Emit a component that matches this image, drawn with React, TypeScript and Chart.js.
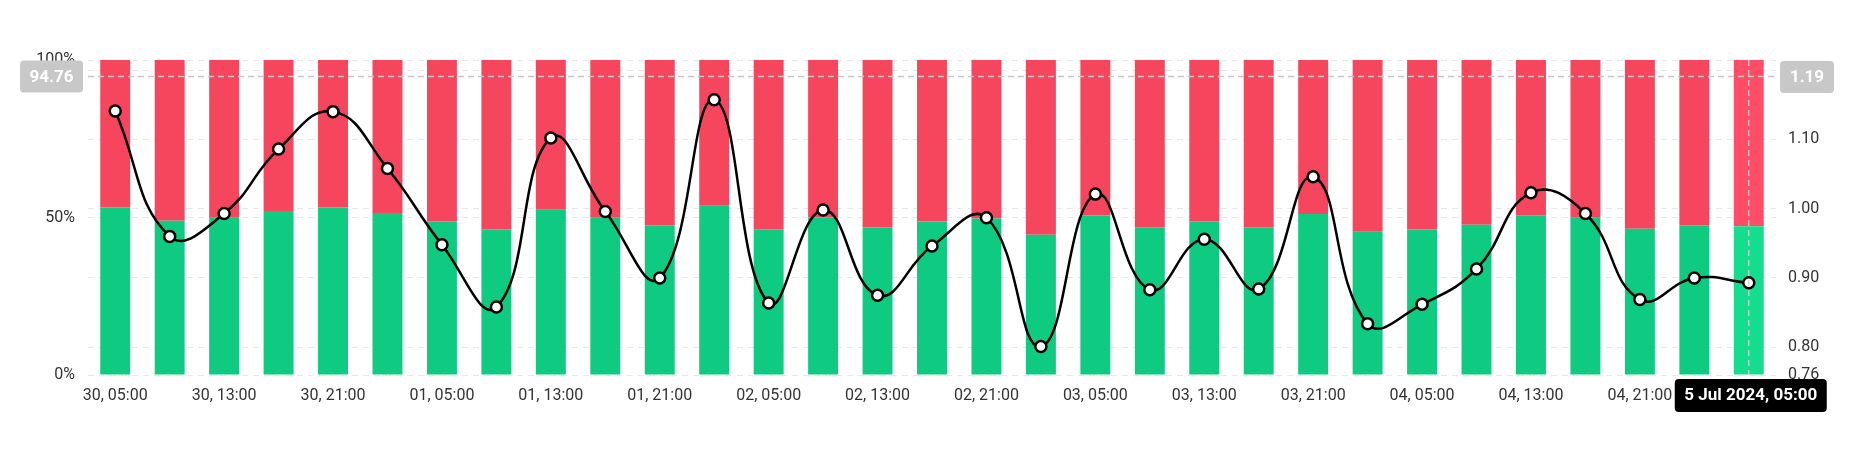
import React, { useEffect, useRef } from "react";
import { Chart, registerables } from "chart.js";

Chart.register(...registerables);

const categories = [
  "30, 05:00", "30, 09:00", "30, 13:00", "30, 17:00", "30, 21:00",
  "01, 01:00", "01, 05:00", "01, 09:00", "01, 13:00", "01, 17:00", "01, 21:00",
  "02, 01:00", "02, 05:00", "02, 09:00", "02, 13:00", "02, 17:00", "02, 21:00",
  "03, 01:00", "03, 05:00", "03, 09:00", "03, 13:00", "03, 17:00", "03, 21:00",
  "04, 01:00", "04, 05:00", "04, 09:00", "04, 13:00", "04, 17:00", "04, 21:00",
  "05, 01:00", "05, 05:00",
];

const longPct = [
  53.2, 49.0, 49.9, 52.1, 53.2, 51.4, 48.8, 46.2, 52.5, 49.9, 47.5, 53.7, 46.3, 50.0, 46.8, 48.7,
  49.7, 44.5, 50.6, 46.9, 48.8, 46.9, 51.1, 45.5, 46.2, 47.7, 50.7, 49.9, 46.4, 47.5, 47.2,
];

const shortPct = [
  46.8, 51.0, 50.1, 47.9, 46.8, 48.6, 51.2, 53.8, 47.5, 50.1, 52.5, 46.3, 53.7, 50.0, 53.2, 51.3,
  50.3, 55.5, 49.4, 53.1, 51.2, 53.1, 48.9, 54.5, 53.8, 52.3, 49.3, 50.1, 53.6, 52.5, 52.8,
];

const ratio = [
  1.141, 0.96, 0.993, 1.086, 1.14, 1.058, 0.948, 0.858, 1.102, 0.996, 0.9, 1.157, 0.864, 0.998, 0.875, 0.946,
  0.987, 0.801, 1.021, 0.883, 0.956, 0.884, 1.046, 0.834, 0.862, 0.913, 1.023, 0.993, 0.869, 0.9, 0.893,
];

const leftTicks = [0, 50, 100];
const rightTicks = [0.76, 0.8, 0.9, 1.0, 1.1, 1.2];
const rightMin = 0.76;
const rightMax = 1.2145;

const crossPct = 94.76;
const crossRatio = 1.19;
const crossIndex = 30;
const crossDateLabel = "5 Jul 2024, 05:00";

const GREEN = "#0ECB81";
const RED = "#F6465D";
const GREEN_HI = "#14DE8D";
const RED_HI = "#FF4D67";

function roundRect(ctx: CanvasRenderingContext2D, x: number, y: number, w: number, h: number, r: number) {
  ctx.beginPath();
  ctx.moveTo(x + r, y);
  ctx.lineTo(x + w - r, y);
  ctx.quadraticCurveTo(x + w, y, x + w, y + r);
  ctx.lineTo(x + w, y + h - r);
  ctx.quadraticCurveTo(x + w, y + h, x + w - r, y + h);
  ctx.lineTo(x + r, y + h);
  ctx.quadraticCurveTo(x, y + h, x, y + h - r);
  ctx.lineTo(x, y + r);
  ctx.quadraticCurveTo(x, y, x + r, y);
  ctx.closePath();
}

const crosshairPlugin = {
  id: "crosshair",
  afterDraw(chart: any) {
    const ctx = chart.ctx as CanvasRenderingContext2D;
    const { left, right, top, bottom } = chart.chartArea;
    const yPix = chart.scales.y.getPixelForValue(crossPct);
    const xPix = chart.scales.x.getPixelForValue(crossIndex);
    ctx.save();
    ctx.setLineDash([6, 4]);
    ctx.lineWidth = 1.5;
    ctx.strokeStyle = "#C6C6C6";
    ctx.beginPath();
    ctx.moveTo(left, yPix);
    ctx.lineTo(right, yPix);
    ctx.stroke();
    ctx.lineWidth = 1.2;
    ctx.strokeStyle = "#D4D4D4";
    ctx.beginPath();
    ctx.moveTo(xPix, top);
    ctx.lineTo(xPix, bottom);
    ctx.stroke();
    ctx.setLineDash([]);

    ctx.font = "bold 17px Roboto";
    ctx.textBaseline = "middle";
    ctx.textAlign = "center";
    // left label
    ctx.fillStyle = "#C8C8C8";
    roundRect(ctx, 12, yPix - 16, 63, 32, 4);
    ctx.fill();
    ctx.fillStyle = "#FFFFFF";
    ctx.fillText(crossPct.toFixed(2), 12 + 31.5, yPix + 1);
    // right label
    const ry = chart.scales.y1.getPixelForValue(crossRatio);
    ctx.fillStyle = "#C8C8C8";
    roundRect(ctx, 1772, ry - 16, 54, 32, 4);
    ctx.fill();
    ctx.fillStyle = "#FFFFFF";
    ctx.fillText(crossRatio.toFixed(2), 1772 + 27, ry + 1);
    // bottom label
    const bw = 152;
    ctx.fillStyle = "#000000";
    roundRect(ctx, xPix - bw / 2 + 2, bottom + 4, bw, 33, 4);
    ctx.fill();
    ctx.fillStyle = "#FFFFFF";
    ctx.fillText(crossDateLabel, xPix + 2, bottom + 21);
    ctx.restore();
  },
};

export default function App() {
  const ref = useRef<HTMLCanvasElement | null>(null);
  useEffect(() => {
    if (!ref.current) return;
    const n = categories.length;
    const greenColors = categories.map((_, i) => (i === crossIndex ? GREEN_HI : GREEN));
    const redColors = categories.map((_, i) => (i === crossIndex ? RED_HI : RED));
    const chart = new Chart(ref.current, {
      type: "bar",
      data: {
        labels: categories,
        datasets: [
          {
            type: "line",
            label: "Long/Short Ratio",
            data: ratio,
            yAxisID: "y1",
            borderColor: "#000000",
            borderWidth: 2.5,
            tension: 0.45,
            pointRadius: 5.5,
            pointBorderWidth: 2.5,
            pointBackgroundColor: "#FFFFFF",
            pointBorderColor: "#000000",
            order: 0,
          } as any,
          {
            label: "Long",
            data: longPct,
            backgroundColor: greenColors,
            yAxisID: "y",
            stack: "s",
            barPercentage: 0.55,
            categoryPercentage: 1,
            order: 1,
          },
          {
            label: "Short",
            data: shortPct,
            backgroundColor: redColors,
            yAxisID: "y",
            stack: "s",
            barPercentage: 0.55,
            categoryPercentage: 1,
            order: 1,
          },
        ],
      },
      options: {
        responsive: false,
        animation: false,
        devicePixelRatio: 1,
        layout: { padding: { top: 52, left: 0, right: 0, bottom: 0 } },
        plugins: { legend: { display: false }, tooltip: { enabled: false } },
        scales: {
          x: {
            stacked: true,
            grid: { display: false, drawTicks: false },
            border: { display: false },
            afterFit(scale: any) {
              scale.height = 53;
            },
            ticks: {
              autoSkip: false,
              maxRotation: 0,
              padding: 11,
              color: "#333333",
              font: { family: "Roboto", size: 16 },
              callback: (_v: any, i: number) =>
                i % 2 === 0 && i !== n - 1 ? categories[i] : "",
            },
          },
          y: {
            stacked: true,
            position: "left",
            min: 0,
            max: 100,
            afterFit(scale: any) {
              scale.width = 80;
            },
            afterBuildTicks(scale: any) {
              scale.ticks = leftTicks.map((v) => ({ value: v }));
            },
            grid: { color: "#E8E8E8", drawTicks: false, lineWidth: 1 },
            border: { display: false, dash: [6, 5] },
            ticks: {
              padding: 13,
              color: "#333333",
              font: { family: "Roboto", size: 16 },
              callback: (v: any) => v + "%",
            },
          },
          y1: {
            position: "right",
            min: rightMin,
            max: rightMax,
            afterFit(scale: any) {
              scale.width = 68;
            },
            afterBuildTicks(scale: any) {
              scale.ticks = rightTicks.map((v) => ({ value: v }));
            },
            grid: { color: "#E8E8E8", drawTicks: false, lineWidth: 1 },
            border: { display: false, dash: [6, 5] },
            ticks: {
              padding: 12,
              color: "#333333",
              font: { family: "Roboto", size: 16 },
              callback: (v: any) => Number(v).toFixed(2),
            },
          },
        },
      },
      plugins: [crosshairPlugin],
    });
    return () => chart.destroy();
  }, []);
  return <canvas ref={ref} width={1836} height={420} style={{ display: "block" }} />;
}
